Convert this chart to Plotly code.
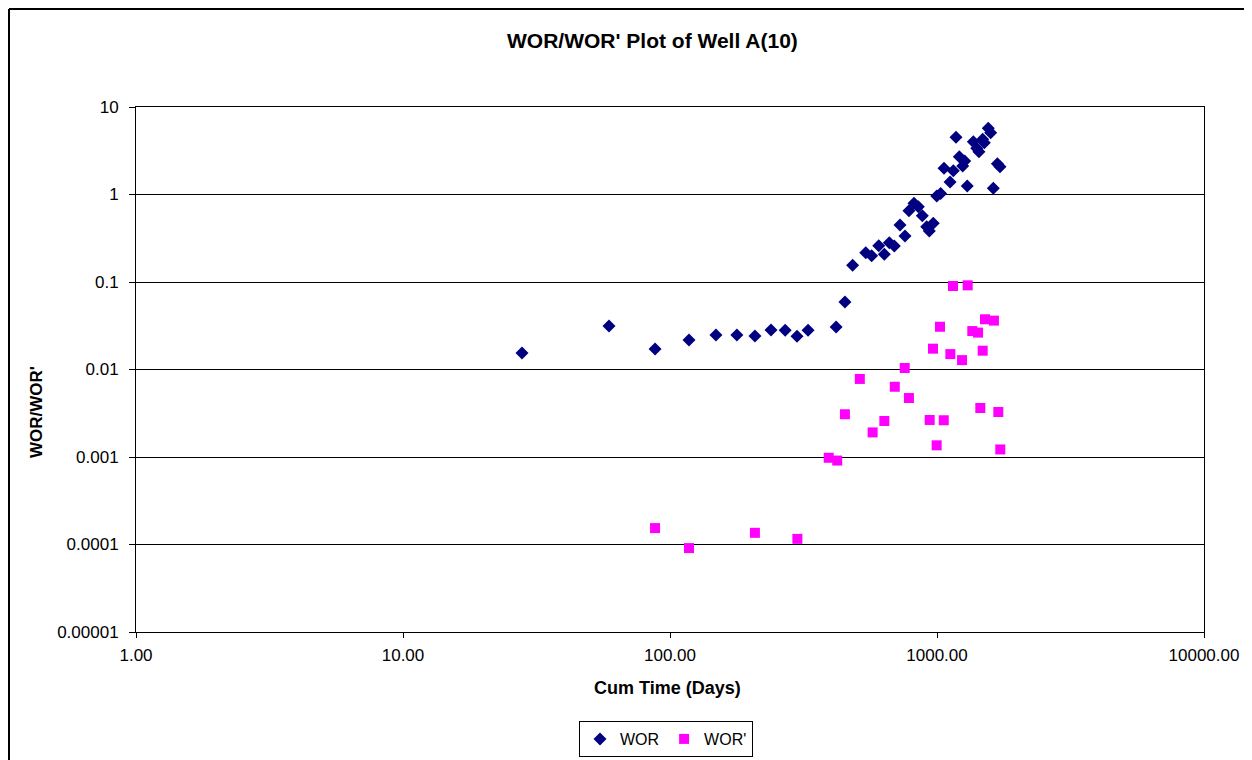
import plotly.graph_objects as go

# WOR series
wor_days = [27.9, 59.1, 87.9, 117.8, 148.6, 178, 208, 239, 270, 299, 329, 419, 452,
            483, 541, 569, 605, 635, 663, 692, 727, 759, 785, 820, 851, 881, 915, 936, 968,
            998, 1032, 1062, 1119, 1151, 1178, 1212, 1248, 1270, 1298, 1368, 1409, 1436,
            1483, 1504, 1556, 1589, 1625, 1683, 1722]
wor_vals = [0.0154, 0.0314, 0.0171, 0.0217, 0.0248, 0.0248, 0.0241, 0.0283, 0.028, 0.024, 0.028, 0.0306, 0.059,
            0.155, 0.216, 0.200, 0.260, 0.207, 0.281, 0.258, 0.448, 0.336, 0.653, 0.792, 0.726, 0.573, 0.428, 0.383, 0.469,
            0.961, 1.03, 1.99, 1.39, 1.87, 4.51, 2.70, 2.12, 2.42, 1.25, 4.01, 3.37, 3.08,
            4.27, 3.91, 5.71, 5.08, 1.18, 2.24, 2.08]

# WOR' series
worp_days = [87.9, 117.8, 208, 300, 393, 423, 452, 514, 574, 635, 695, 757, 785, 939, 966,
             997, 1026, 1060, 1122, 1148, 1241, 1303, 1356, 1425, 1453, 1483, 1513, 1634, 1697, 1726]
worp_vals = [1.54e-4, 9.1e-5, 1.36e-4, 1.16e-4, 9.8e-4, 9.1e-4, 3.08e-3, 7.8e-3, 1.91e-3, 2.58e-3, 6.35e-3,
             0.0104, 4.72e-3, 2.65e-3, 0.0173, 1.36e-3, 0.0308, 2.63e-3, 0.0150, 0.090, 0.0128, 0.0916,
             0.0275, 0.0264, 3.63e-3, 0.0164, 0.0375, 0.0362, 3.27e-3, 1.22e-3]

x_ticks = [1, 10, 100, 1000, 10000]
x_ticktext = ["1.00", "10.00", "100.00", "1000.00", "10000.00"]
y_ticks = [1e-5, 1e-4, 1e-3, 1e-2, 1e-1, 1, 10]
y_ticktext = ["0.00001", "0.0001", "0.001", "0.01", "0.1", "1", "10"]

FONT = "Liberation Sans, Arial, sans-serif"

# figure geometry (page has an 8px body margin)
W, H = 1244, 760
ML, MT, PW, PH = 128, 99, 1068, 525
MR, MB = W - ML - PW, H - MT - PH

def px_x(sx):  # screen x -> paper
    return (sx - 8 - ML) / PW

def px_y(sy):  # screen y -> paper
    return (MT + PH - (sy - 8)) / PH

fig = go.Figure()
fig.add_trace(go.Scatter(x=wor_days, y=wor_vals, mode="markers", name="WOR",
                         marker=dict(symbol="diamond", size=10, color="#000080",
                                     line=dict(width=0))))
fig.add_trace(go.Scatter(x=worp_days, y=worp_vals, mode="markers", name="WOR'",
                         marker=dict(symbol="square", size=10, color="#FF00FF",
                                     line=dict(width=0))))

fig.update_layout(
    width=W, height=H,
    margin=dict(l=ML, r=MR, t=MT, b=MB, autoexpand=False),
    paper_bgcolor="white", plot_bgcolor="white",
    font=dict(family=FONT, color="black", size=16),
    showlegend=True,
    legend=dict(orientation="h", x=px_x(666), xanchor="center", y=px_y(721), yanchor="top",
                bordercolor="black", borderwidth=1, font=dict(size=16, family=FONT),
                itemwidth=30, tracegroupgap=0),
    annotations=[
        dict(text="<b>WOR/WOR' Plot of Well A(10)</b>", xref="paper", yref="paper",
             x=px_x(652), y=px_y(40), showarrow=False, font=dict(size=21, family=FONT),
             xanchor="center", yanchor="middle"),
        dict(text="<b>Cum Time (Days)</b>", xref="paper", yref="paper",
             x=px_x(667), y=px_y(688), showarrow=False, font=dict(size=18, family=FONT),
             xanchor="center", yanchor="middle"),
        dict(text="<b>WOR/WOR'</b>", xref="paper", yref="paper",
             x=px_x(37), y=px_y(412), showarrow=False, textangle=-90,
             font=dict(size=17, family=FONT), xanchor="center", yanchor="middle"),
    ],
    shapes=[
        dict(type="line", xref="paper", yref="paper", x0=px_x(9), x1=px_x(9),
             y0=px_y(9), y1=px_y(800), line=dict(color="black", width=2)),
        dict(type="line", xref="paper", yref="paper", x0=px_x(9), x1=px_x(1300),
             y0=px_y(9), y1=px_y(9), line=dict(color="black", width=2)),
    ],
)

fig.update_xaxes(type="log", range=[0, 4], tickvals=x_ticks, ticktext=x_ticktext,
                 showgrid=False, zeroline=False, showline=True, linecolor="black", linewidth=1,
                 mirror=True, ticks="outside", ticklen=5, tickcolor="black",
                 tickfont=dict(size=17, family=FONT), ticklabelstandoff=3, automargin=False)
fig.update_yaxes(type="log", range=[-5, 1], tickvals=y_ticks, ticktext=y_ticktext,
                 showgrid=True, gridcolor="black", gridwidth=1, zeroline=False,
                 showline=True, linecolor="black", linewidth=1, mirror=True,
                 ticks="outside", ticklen=6, tickcolor="black",
                 tickfont=dict(size=17, family=FONT), ticklabelstandoff=7, automargin=False)

fig.write_html("out.html")
